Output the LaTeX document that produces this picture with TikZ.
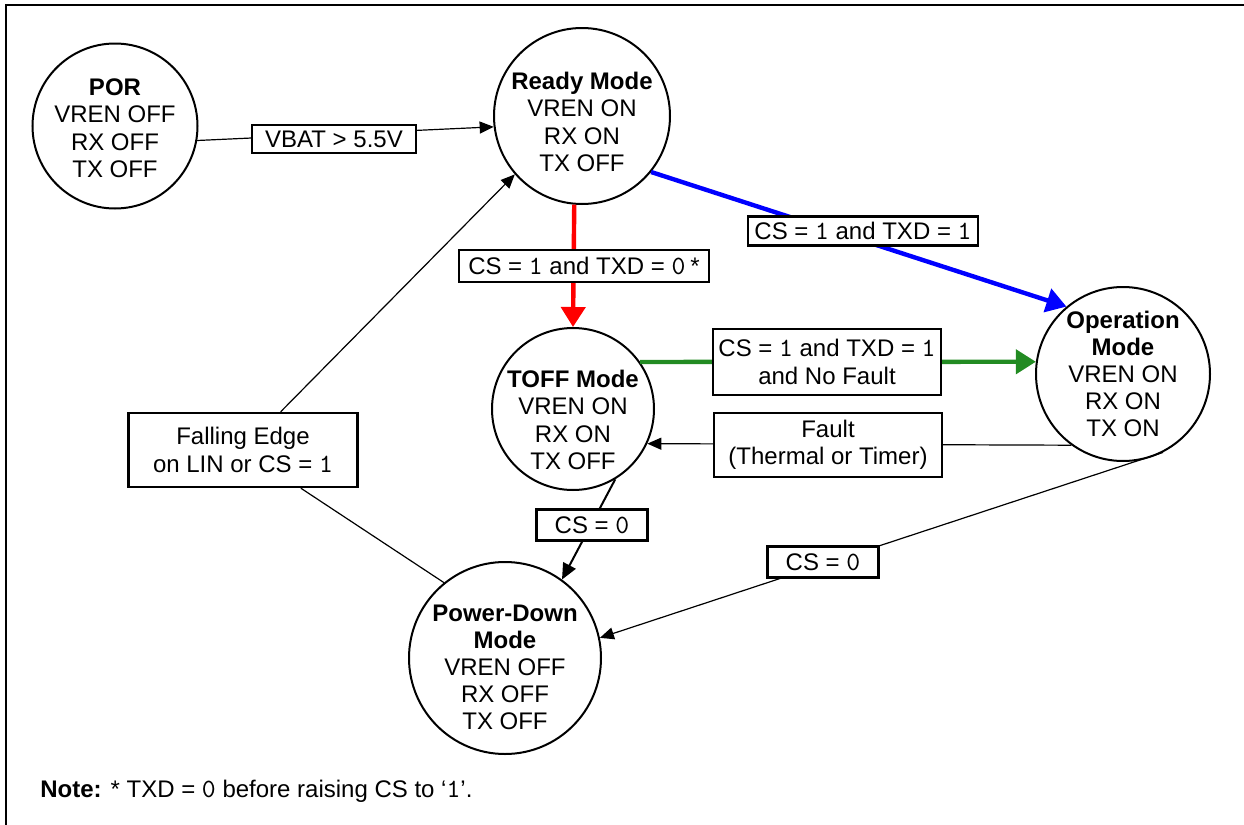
\documentclass[tikz,border=0pt]{standalone}
\usepackage{fontspec}
\setmainfont{Liberation Sans}
\setmonofont{lmmono10-regular.otf}[Scale=1.1]
\usetikzlibrary{positioning, arrows.meta}
\definecolor{okgreen}{RGB}{34,139,34}
\newcommand{\modegap}[1]{\rule{0pt}{#1}}
\tikzset{
    modecirc/.style={circle, draw=black, line width=1pt, fill=white, align=center, inner sep=-12pt, minimum size=#1, font=\fontsize{12}{13.6}\selectfont},
    condbox/.style={rectangle, draw=black, line width=1.2pt, fill=white, align=center, inner sep=0pt, font=\fontsize{12}{13.6}\selectfont},
    thinarr/.style={line width=0.6pt, -{Triangle[length=7pt, width=6pt]}},
    bigarr/.style={line width=2.2pt, -{Triangle[length=10pt, width=12pt]}},
}

\begin{document}
\begin{tikzpicture}[x=0.5pt, y=-0.5pt]
        \useasboundingbox (0,0) rectangle (1244,825);
        \draw[line width=1.2pt] (6,825) -- (6,5) -- (1244,5);

        \node [modecirc=82.5pt] (por) at (115,126) {\modegap{10.7pt}\textbf{POR}\\VREN OFF\\RX OFF\\TX OFF};
        \node [modecirc=88pt] (ready) at (582,116) {\modegap{14.7pt}\textbf{Ready Mode}\\VREN ON\\RX ON\\TX OFF};
        \node [modecirc=81pt] (toff) at (573,409) {\modegap{19.7pt}\textbf{TOFF Mode}\\VREN ON\\RX ON\\TX OFF};
        \node [modecirc=87pt] (op) at (1123,374) {\textbf{Operation}\\\textbf{Mode}\\VREN ON\\RX ON\\TX ON};
        \node [modecirc=96pt] (pd) at (505,658) {\modegap{17.7pt}\textbf{Power-Down}\\\textbf{Mode}\\VREN OFF\\RX OFF\\TX OFF};

        \draw[thinarr] (por.-10) -- (ready.187);
        \draw[bigarr, red] (ready.265) -- (toff.north);
        \draw[bigarr, blue] (ready.-39) -- (op.130);
        \draw[bigarr, okgreen] (toff.35.5) -- (op.172);
        \draw[thinarr] (op.234) -- (toff.-25.6);
        \draw[line width=1pt, -{Triangle[length=8pt, width=7pt]}] (toff.-59) -- (pd.54);
        \draw[thinarr] (op.-63) -- (pd.12);

        \node [condbox, minimum width=82pt, minimum height=14pt] (vbat) at (334,139) {VBAT > 5.5V};
        \node [condbox, minimum width=125pt, minimum height=16pt] (txdlow) at (584,266) {CS = \texttt{1} and TXD = \texttt{0}\hspace{2.5pt}*};
        \node [condbox, minimum width=115pt, minimum height=14.5pt] (txdhigh) at (863,231) {CS = \texttt{1} and TXD = \texttt{1}};
        \node [condbox, minimum width=114pt, minimum height=33pt] (nofault) at (827,362) {CS = \texttt{1} and TXD = \texttt{1}\\and No Fault};
        \node [condbox, minimum width=114pt, minimum height=32pt] (fault) at (828,445) {Fault\\(Thermal or Timer)};
        \node [condbox, minimum width=114.5pt, minimum height=37pt] (fall) at (243,450) {Falling Edge\\on LIN or CS = \texttt{1}};
        \node [condbox, minimum width=55.5pt, minimum height=15.5pt] (csoffa) at (592,525) {CS = \texttt{0}};
        \node [condbox, minimum width=55.5pt, minimum height=15.5pt] (csoffb) at (823,562) {CS = \texttt{0}};

        \draw[thinarr] (pd.129) -- (fall) -- (ready.221);

        \node [anchor=base west, inner sep=0pt, font=\fontsize{12}{13.6}\selectfont] (note) at (40,797) {\textbf{Note:} * TXD = \texttt{0} before raising CS to ‘\texttt{1}’.};
    \end{tikzpicture}
\end{document}
